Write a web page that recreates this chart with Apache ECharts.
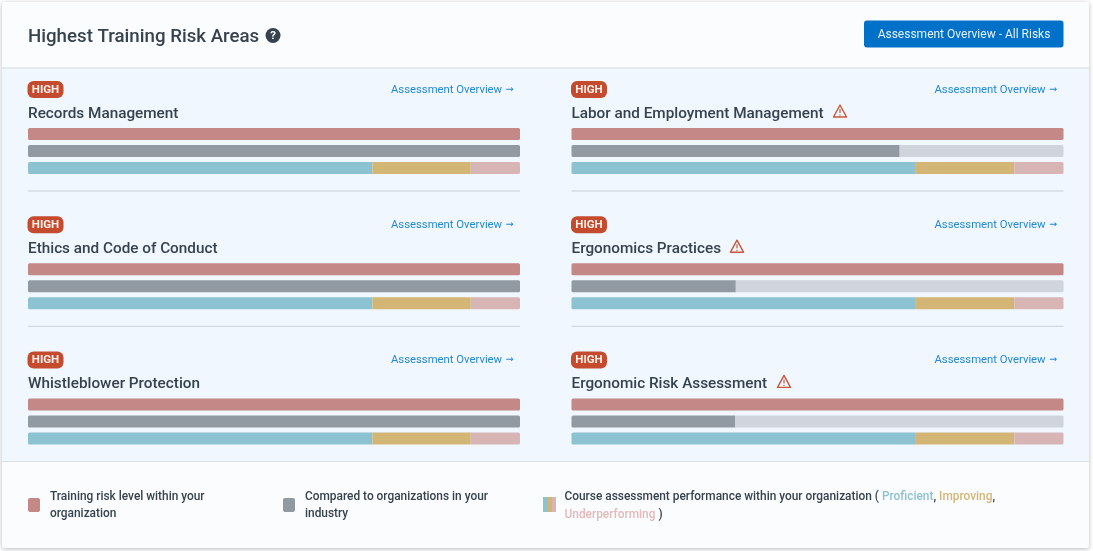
<!DOCTYPE html>
<html><head><meta charset="utf-8">
<style>html,body{margin:0;padding:0;background:#fff}#c{width:1093px;height:551px}</style>
<script src="https://cdn.jsdelivr.net/npm/echarts@6/dist/echarts.min.js"></script></head>
<body><div id="c"></div>
<script>
const topics = ['Records Management','Labor and Employment Management','Ethics and Code of Conduct','Ergonomics Practices','Whistleblower Protection','Ergonomic Risk Assessment'];
const warned = [false,true,false,true,false,true];
const titleWidths = [150,253,190,150,172,197];
const riskLevel = [100,100,100,100,100,100];
const industry = [100,66.7,100,33.4,100,33.3];
const proficient = [70,70,70,70,70,70];
const improving = [20,20,20,20,20,20];
const underperforming = [10,10,10,10,10,10];
const rows = ['Risk','Industry','Assessment'];
const C = {risk:'#c48886',ind:'#9199a2',track:'#d0d5dd',prof:'#8dc3d0',imp:'#d3b676',und:'#d8b5b5',text:'#36424e',link:'#2389d8',badge:'#c44b2e'};
const font = 'Roboto';

const grid=[],xAxis=[],yAxis=[],series=[],g=[];
const T=(x,y,text,size,fill,weight,extra)=>g.push({type:'text',x,y,silent:true,style:Object.assign({text,font:`${weight||400} ${size}px ${font}`,fill,verticalAlign:'middle',align:'left'},extra||{})});
const R=(x,y,w,h,fill,r)=>g.push({type:'rect',shape:{x,y,width:w,height:h,r:r||0},silent:true,style:{fill}});

// card
g.push({type:'rect',shape:{x:2,y:2,width:1087,height:546,r:2},silent:true,style:{fill:'#fbfcfe',shadowBlur:5,shadowColor:'rgba(0,0,0,.28)',shadowOffsetY:1}});
R(2,68,1087,393,'#f0f7ff');
R(2,67.5,1087,1,'#d3d9e0');
R(2,461,1087,1,'#d9dee4');
T(28,37,'Highest Training Risk Areas',18.7,C.text,500);
g.push({type:'circle',shape:{cx:273,cy:35.5,r:7.5},silent:true,style:{fill:C.text}});
T(273,36.5,'?',11.5,'#fff',700,{align:'center'});
R(864,20.5,199.5,27,'#0071c8',3);
T(964,35,'Assessment Overview - All Risks',12,'#e6f3ff',400,{align:'center'});

topics.forEach((name,i)=>{
  const col=i%2,row=Math.floor(i/2);
  const x=col?571.5:28, dy=row*135.2;
  const right=1093-(x+492);
  R(x-0.5,81+dy,36,17,C.badge,6);
  T(x+17.5,90+dy,'HIGH',11.5,'#fdeee9',700,{align:'center'});
  T(x+363,90+dy,'Assessment Overview',11.3,C.link,400);
  g.push({type:'text',x:x+477.5,y:89.5+dy,silent:true,style:{text:'→',font:'400 9.5px "DejaVu Sans"',fill:C.link,verticalAlign:'middle',align:'left'}});
  T(x,114+dy,name,15.3,C.text,500);
  if(warned[i]){
    const ix=x+titleWidths[i]+15.5, iy=112+dy;
    g.push({type:'polygon',shape:{points:[[ix,iy-7],[ix+6.5,iy+5],[ix-6.5,iy+5]]},silent:true,style:{fill:'none',stroke:'#c9573a',lineWidth:1.4,lineJoin:'round'}});
    g.push({type:'line',shape:{x1:ix,y1:iy-3,x2:ix,y2:iy+1},silent:true,style:{stroke:'#c9573a',lineWidth:1.2}});
    g.push({type:'circle',shape:{cx:ix,cy:iy+3,r:.7},silent:true,style:{fill:'#c9573a'}});
  }
  if(row<2) R(x,190.5+dy,492,1,'#c9d0d9');
  grid.push({left:x,right,top:125.5+dy,height:51,containLabel:false});
  xAxis.push({gridIndex:i,type:'value',min:0,max:100,show:false});
  yAxis.push({gridIndex:i,type:'category',data:rows,inverse:true,show:false});
  const add=(sname,color,data,radius)=>series.push({name:sname,type:'bar',xAxisIndex:i,yAxisIndex:i,stack:'p'+i,barWidth:12,silent:true,itemStyle:{color,borderRadius:radius},data});
  const L=[1.5,0,0,1.5],Rr=[0,1.5,1.5,0],A=1.5;
  add('Training risk',C.risk,[riskLevel[i],null,null],A);
  add('Industry',C.ind,[null,industry[i],null],industry[i]===100?A:L);
  add('Industry rest',C.track,[null,100-industry[i],null],Rr);
  add('Proficient',C.prof,[null,null,proficient[i]],L);
  add('Improving',C.imp,[null,null,improving[i]],0);
  add('Underperforming',C.und,[null,null,underperforming[i]],Rr);
});

// legend
R(28,498,12,14,C.risk,2);
T(50,497,'Training risk level within your',11.9,C.text,500);
T(50,514.5,'organization',11.9,C.text,500);
R(283,498,12,14,C.ind,2);
T(305,497,'Compared to organizations in your',11.9,C.text,500);
T(305,514.5,'industry',11.9,C.text,500);
R(543,497,5,15,C.prof);R(548,497,4,15,C.imp);R(552,497,4,15,C.und);
const f=`500 11.9px ${font}`;
g.push({type:'text',x:564.5,y:506,silent:true,style:{
  text:'Course assessment performance within your organization ( {p|Proficient}, {i|Improving},\n{u|Underperforming} )',
  font:f,fill:C.text,lineHeight:17.5,verticalAlign:'middle',align:'left',
  rich:{p:{fill:'#8dc3d0',font:f},i:{fill:'#d3b676',font:f},u:{fill:'#e3b9b9',font:f}}
}});

const chart=echarts.init(document.getElementById('c'),null,{renderer:'canvas'});
chart.setOption({animation:false,backgroundColor:'#fff',grid,xAxis,yAxis,series,graphic:{elements:g}});
</script></body></html>
